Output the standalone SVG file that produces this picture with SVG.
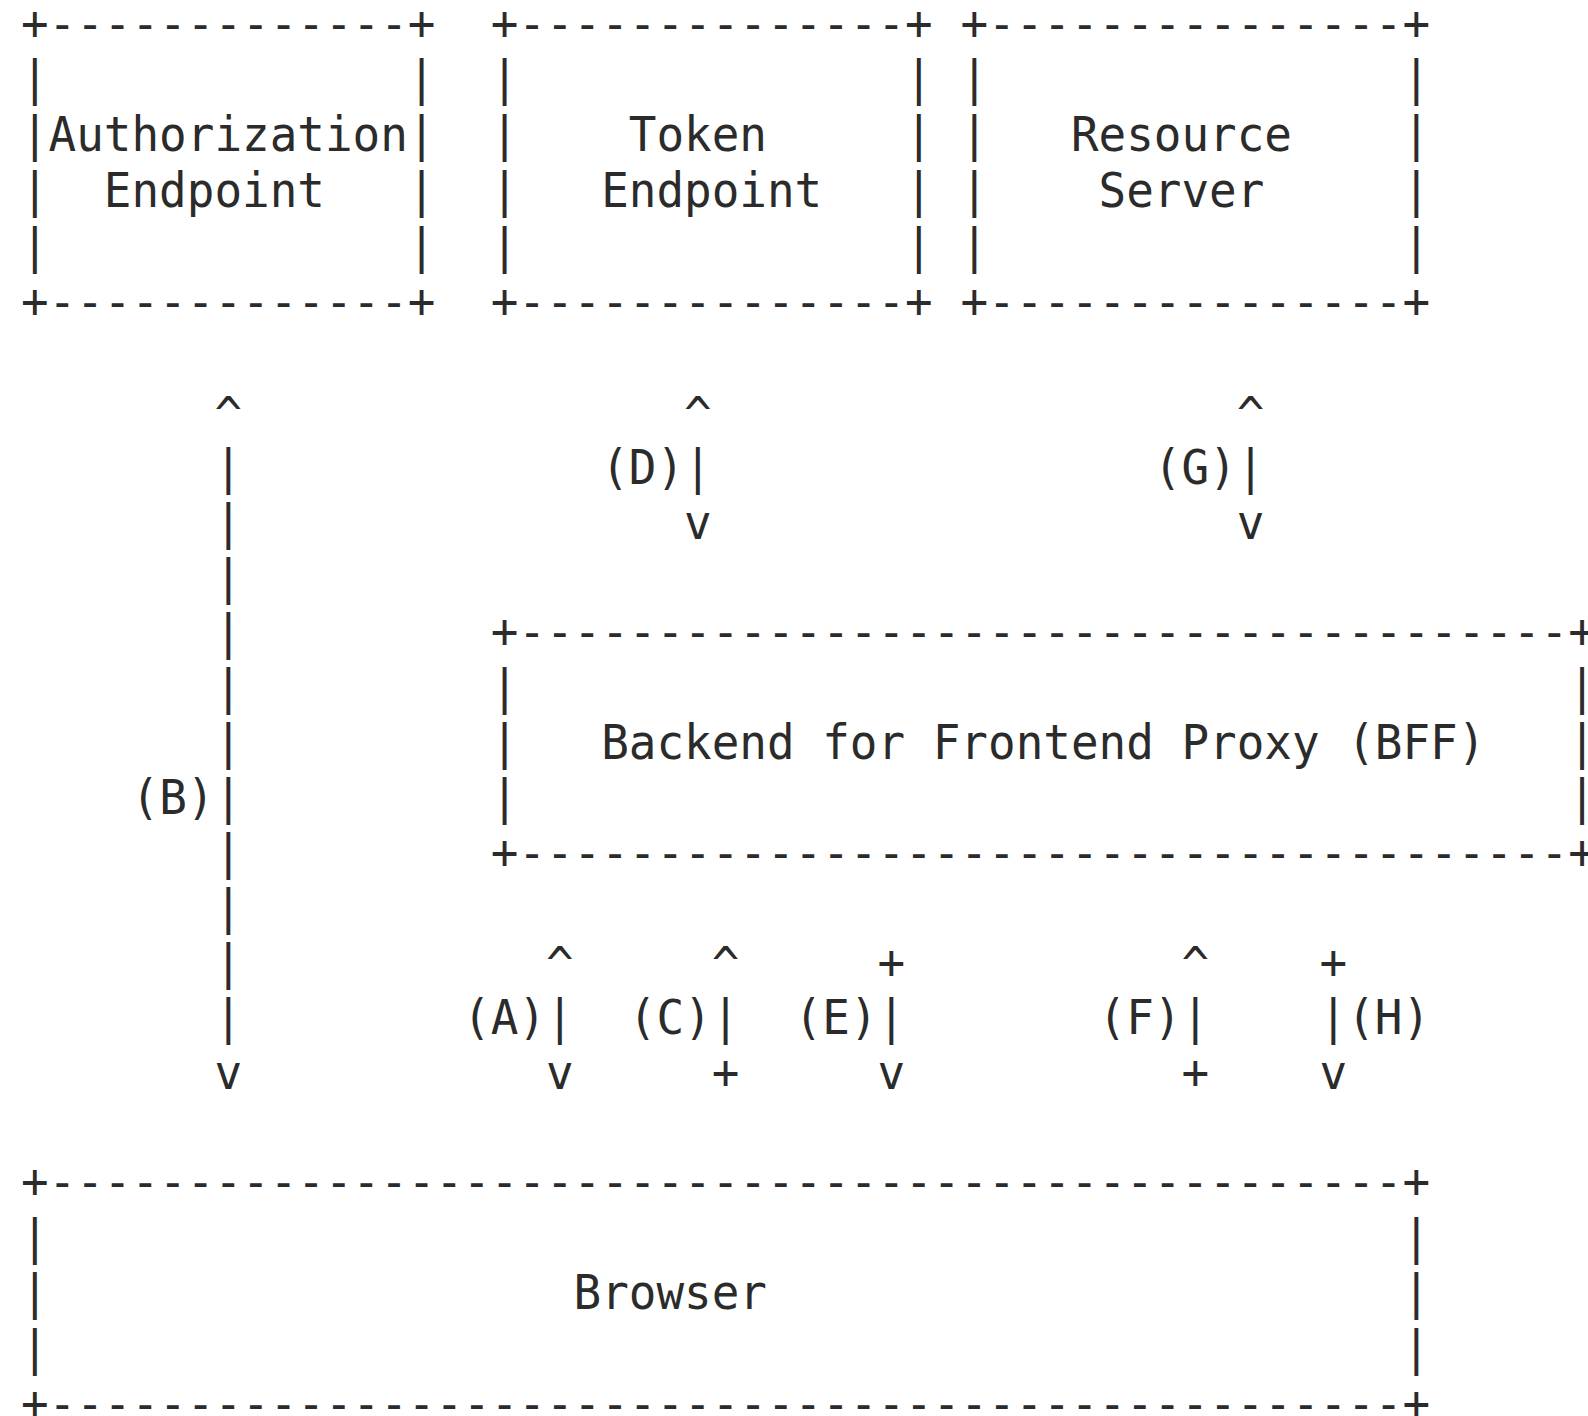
<svg xmlns="http://www.w3.org/2000/svg" width="1588" height="1416" viewBox="0 0 1588 1416" xml:space="preserve">
<style>
  text { font-family: "DejaVu Sans Mono", "Liberation Mono", monospace; font-size: 48px; fill: #2b2b2b; white-space: pre; }
</style>
<rect width="1588" height="1416" fill="#ffffff"/>
<!-- monospace grid: cell width 28.896 in local units, scaled to 27.63 px -->
<g transform="scale(0.95619,1)">
  <g id="authorization-endpoint">
    <text x="21.95" y="40">+-------------+</text>
    <text x="21.95" y="95.5">|             |</text>
    <text x="21.95" y="151.5">|Authorization|</text>
    <text x="21.95" y="207.5">|  Endpoint   |</text>
    <text x="21.95" y="263">|             |</text>
    <text x="21.95" y="318">+-------------+</text>
  </g>
  <g id="token-endpoint">
    <text x="513.18" y="40">+--------------+</text>
    <text x="513.18" y="95.5">|              |</text>
    <text x="513.18" y="151.5">|    Token     |</text>
    <text x="513.18" y="207.5">|   Endpoint   |</text>
    <text x="513.18" y="263">|              |</text>
    <text x="513.18" y="318">+--------------+</text>
  </g>
  <g id="resource-server">
    <text x="1004.41" y="40">+---------------+</text>
    <text x="1004.41" y="95.5">|               |</text>
    <text x="1004.41" y="151.5">|   Resource    |</text>
    <text x="1004.41" y="207.5">|    Server     |</text>
    <text x="1004.41" y="263">|               |</text>
    <text x="1004.41" y="318">+---------------+</text>
  </g>
  <g id="bff-proxy">
    <text x="513.18" y="648">+--------------------------------------+</text>
    <text x="513.18" y="704.3">|                                      |</text>
    <text x="513.18" y="759.3">|   Backend for Frontend Proxy (BFF)   |</text>
    <text x="513.18" y="814.3">|                                      |</text>
    <text x="513.18" y="869.3">+--------------------------------------+</text>
  </g>
  <g id="browser">
    <text x="21.95" y="1198.5">+-------------------------------------------------+</text>
    <text x="21.95" y="1254">|                                                 |</text>
    <text x="21.95" y="1309.5">|                   Browser                       |</text>
    <text x="21.95" y="1365">|                                                 |</text>
    <text x="21.95" y="1420.5">+-------------------------------------------------+</text>
  </g>
  <g id="connectors">
    <!-- (B) browser <-> authorization endpoint -->
    <text x="224.22" y="431">^</text>
    <text x="224.22" y="484.3">|</text>
    <text x="224.22" y="539.3">|</text>
    <text x="224.22" y="594.3">|</text>
    <text x="224.22" y="649.3">|</text>
    <text x="224.22" y="704.3">|</text>
    <text x="224.22" y="759.3">|</text>
    <text x="137.53" y="814.3">(B)|</text>
    <text x="224.22" y="869.3">|</text>
    <text x="224.22" y="924.3">|</text>
    <text x="224.22" y="979.3">|</text>
    <text x="224.22" y="1034.3">|</text>
    <text x="224.22" y="1089.3">v</text>
    <!-- (D) BFF <-> token endpoint -->
    <text x="715.45" y="431">^</text>
    <text x="628.77" y="484.3">(D)|</text>
    <text x="715.45" y="539.3">v</text>
    <!-- (G) BFF <-> resource server -->
    <text x="1293.37" y="431">^</text>
    <text x="1206.69" y="484.3">(G)|</text>
    <text x="1293.37" y="539.3">v</text>
    <!-- (A) -->
    <text x="570.97" y="981">^</text>
    <text x="484.29" y="1034.3">(A)|</text>
    <text x="570.97" y="1089.3">v</text>
    <!-- (C) -->
    <text x="744.35" y="981">^</text>
    <text x="657.66" y="1034.3">(C)|</text>
    <text x="744.35" y="1089.3">+</text>
    <!-- (E) -->
    <text x="917.73" y="979.3">+</text>
    <text x="831.04" y="1034.3">(E)|</text>
    <text x="917.73" y="1089.3">v</text>
    <!-- (F) -->
    <text x="1235.58" y="981">^</text>
    <text x="1148.89" y="1034.3">(F)|</text>
    <text x="1235.58" y="1089.3">+</text>
    <!-- (H) -->
    <text x="1380.06" y="979.3">+</text>
    <text x="1380.06" y="1034.3">|(H)</text>
    <text x="1380.06" y="1089.3">v</text>
  </g>
</g>
</svg>
